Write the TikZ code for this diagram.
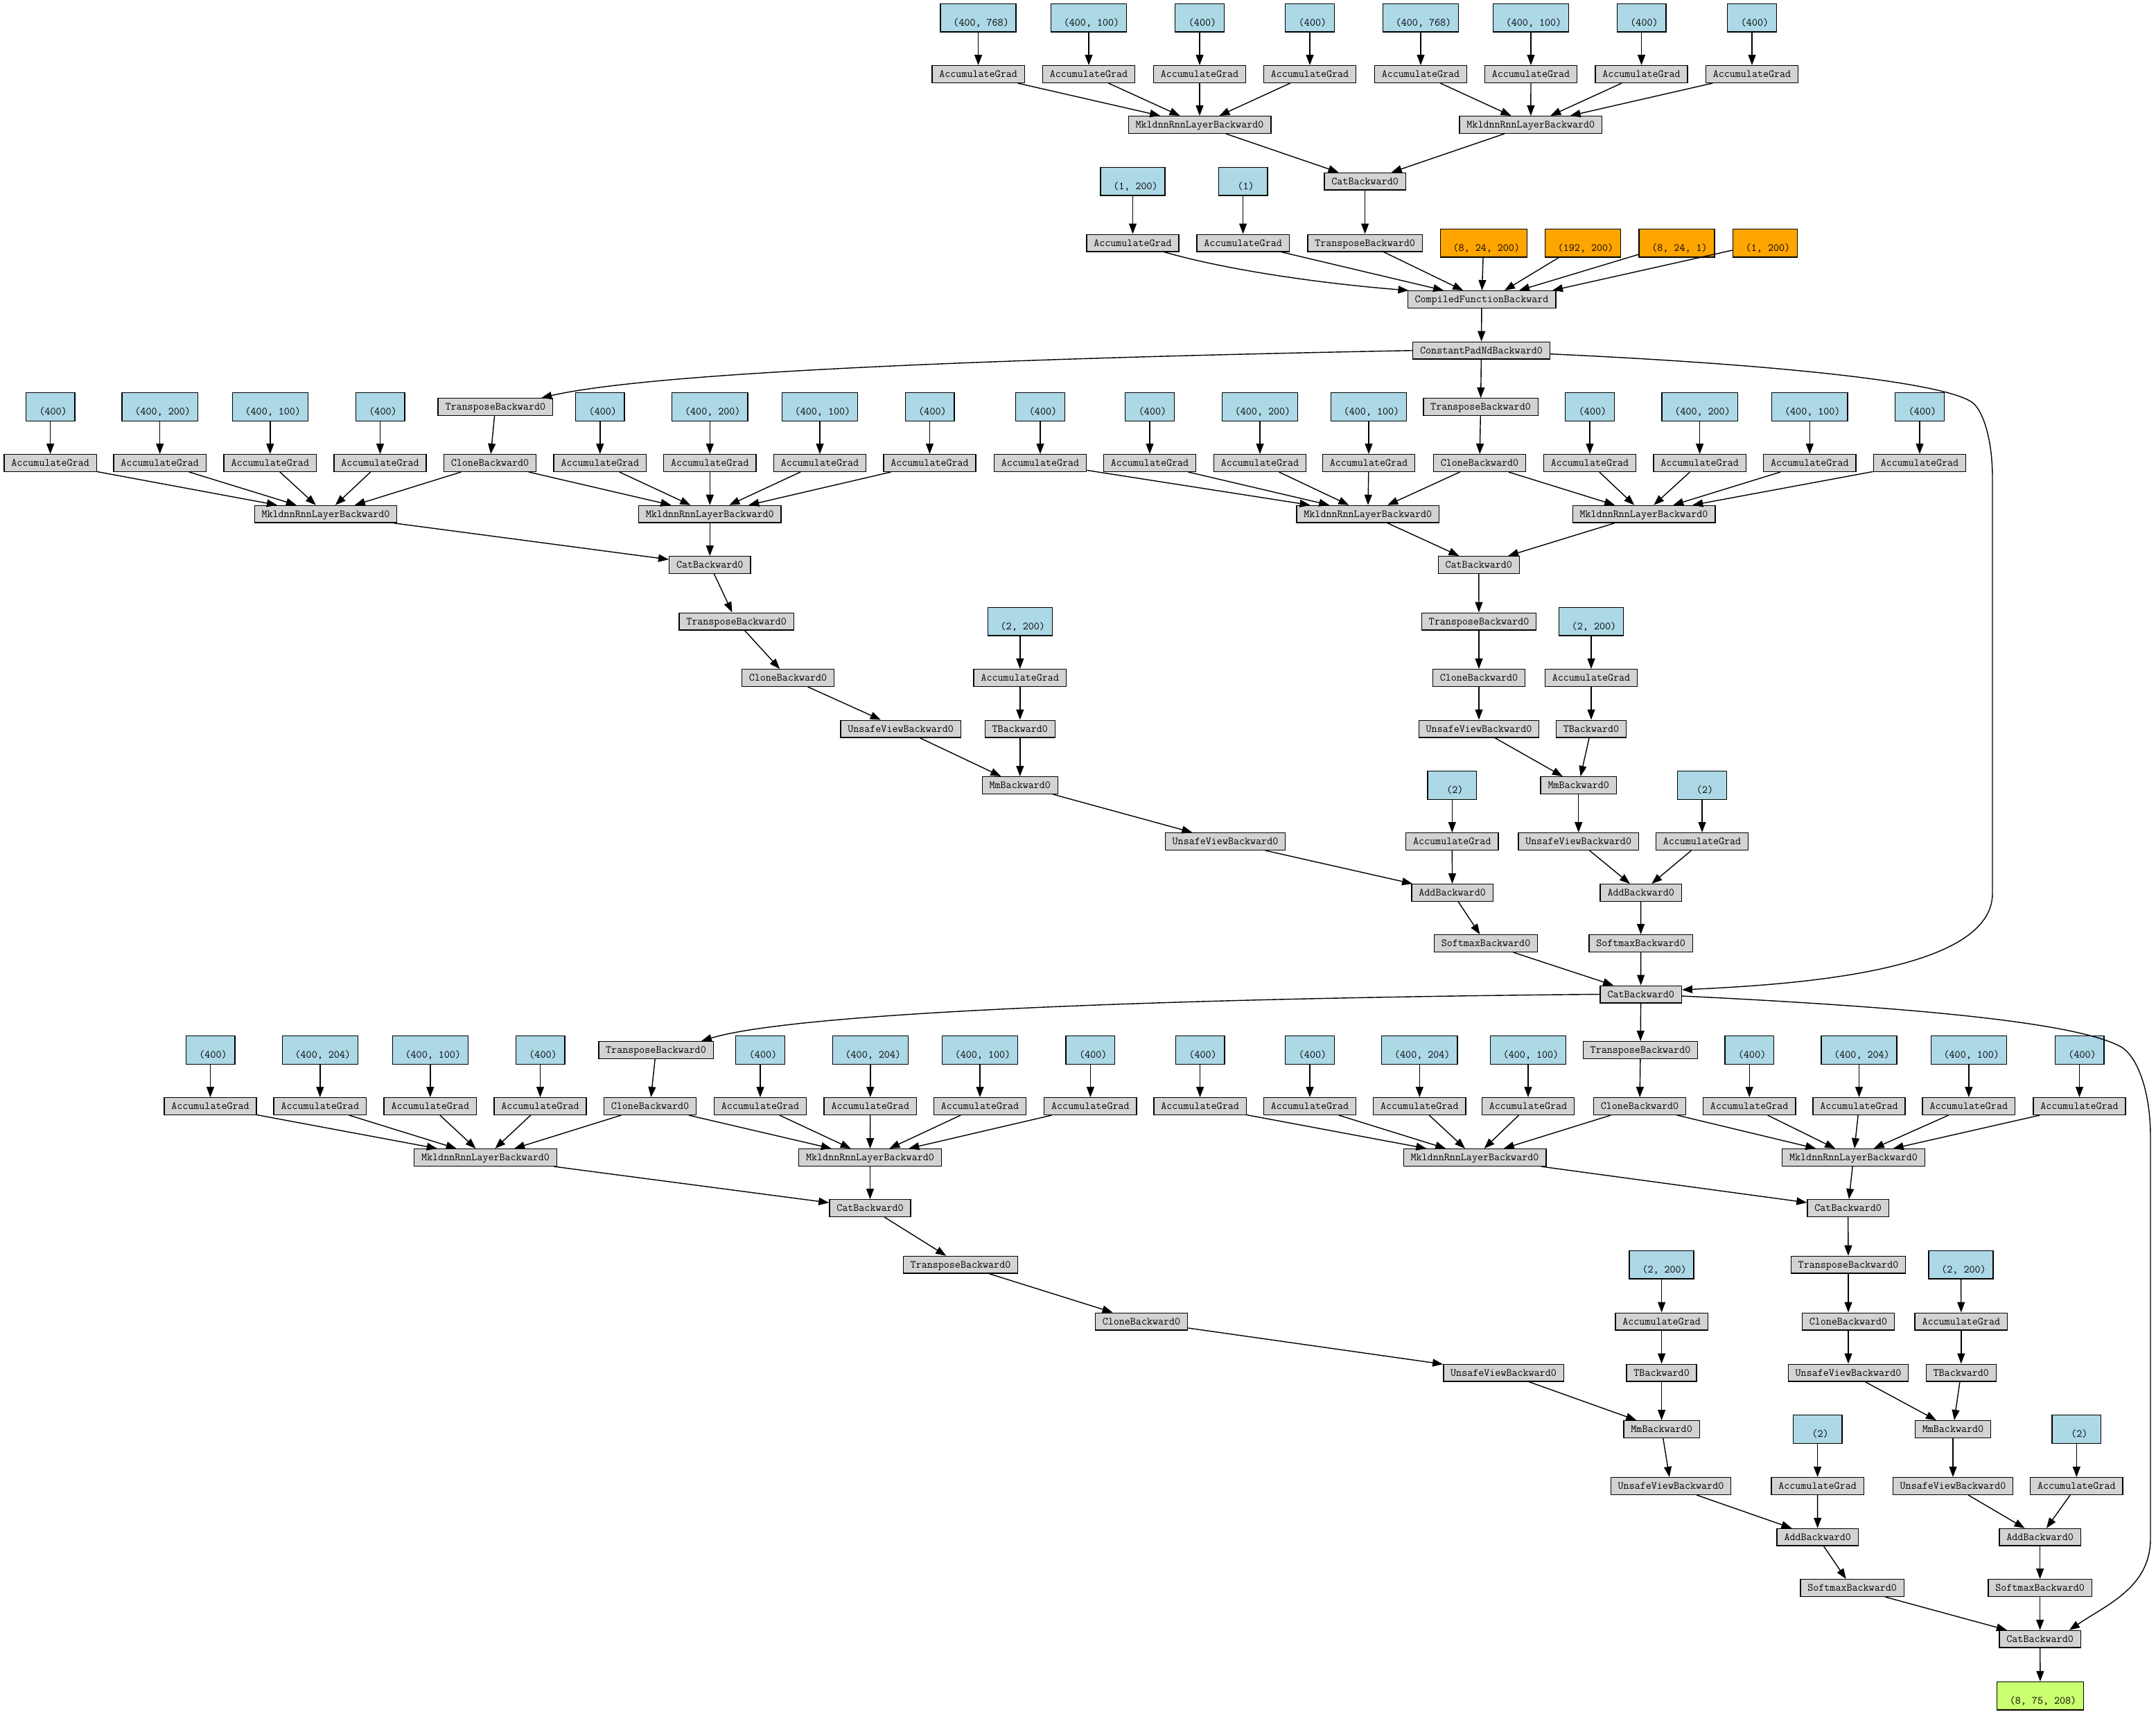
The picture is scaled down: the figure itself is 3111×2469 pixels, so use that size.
\documentclass[tikz,border=0pt]{standalone}
\usepackage{fontspec}
\usetikzlibrary{arrows.meta,calc}
\definecolor{opgray}{HTML}{D3D3D3}
\definecolor{leafblue}{HTML}{ADD8E6}
\definecolor{extorange}{HTML}{FFA500}
\definecolor{outgreen}{HTML}{CAFF70}
\newcommand\OpN[3]{\node[op] (#1) at (#2) {#3};}
\newcommand\LeafN[3]{\node[leaf] (#1) at (#2) {\phantom{0}#3};}
\newcommand\ExtN[3]{\node[ext] (#1) at (#2) {\phantom{0}#3};}
\begin{document}
\begin{tikzpicture}[x=1pt,y=1pt,
  base/.style={draw=black, line width=1.4pt, rectangle,
    font=\ttfamily\fontsize{15.6}{18}\selectfont, inner xsep=10.4pt, inner ysep=0pt},
  op/.style={base, fill=opgray, minimum height=24.6pt, text height=11.4pt, text depth=2pt},
  leaf/.style={base, fill=leafblue, minimum height=40.6pt, minimum width=70.6pt,
    text height=27pt, text depth=3.2pt},
  ext/.style={leaf, fill=extorange},
  outn/.style={leaf, fill=outgreen},
  edge/.style={line width=1.4pt, -{Triangle[length=15pt,width=11pt]}},
]
\useasboundingbox (0,0) rectangle (3111,-2469);

% ---------------- top block ----------------
\LeafN{a1}{1411.6,-25.7}{(400, 768)}
\LeafN{a2}{1571,-25.7}{(400, 100)}
\LeafN{a3}{1731,-25.7}{(400)}
\LeafN{a4}{1890,-25.7}{(400)}
\LeafN{a5}{2050,-25.7}{(400, 768)}
\LeafN{a6}{2209,-25.7}{(400, 100)}
\LeafN{a7}{2368.5,-25.7}{(400)}
\LeafN{a8}{2528,-25.7}{(400)}
\OpN{b1}{1411.6,-107}{AccumulateGrad}
\OpN{b2}{1571,-107}{AccumulateGrad}
\OpN{b3}{1731,-107}{AccumulateGrad}
\OpN{b4}{1890,-107}{AccumulateGrad}
\OpN{b5}{2050,-107}{AccumulateGrad}
\OpN{b6}{2209,-107}{AccumulateGrad}
\OpN{b7}{2368.5,-107}{AccumulateGrad}
\OpN{b8}{2528,-107}{AccumulateGrad}
\OpN{c1}{1731,-180}{MkldnnRnnLayerBackward0}
\OpN{c2}{2208.8,-180}{MkldnnRnnLayerBackward0}
\LeafN{d1}{1634.5,-261.7}{(1, 200)}
\LeafN{d2}{1793.6,-261.7}{(1)}
\OpN{dcat}{1969.6,-261.7}{CatBackward0}
\OpN{e1}{1634.5,-350.5}{AccumulateGrad}
\OpN{e2}{1793.6,-350.5}{AccumulateGrad}
\OpN{etr}{1969.6,-350.5}{TransposeBackward0}
\ExtN{o1}{2140.8,-350.5}{(8, 24, 200)}
\ExtN{o2}{2284,-350.5}{(192, 200)}
\ExtN{o3}{2419.5,-350.5}{(8, 24, 1)}
\ExtN{o4}{2547,-350.5}{(1, 200)}
\OpN{comp}{2138,-432}{CompiledFunctionBackward}
\OpN{cpad}{2137.5,-505.7}{ConstantPadNdBackward0}

% ---------------- first block ----------------
\LeafN{h1}{72.6,-587}{(400)}
\LeafN{h2}{230.7,-587}{(400, 200)}
\LeafN{h3}{389.8,-587}{(400, 100)}
\LeafN{h4}{548.5,-587}{(400)}
\OpN{htl}{714.8,-587}{TransposeBackward0}
\LeafN{h5}{865.8,-587}{(400)}
\LeafN{h6}{1024.3,-587}{(400, 200)}
\LeafN{h7}{1183,-587}{(400, 100)}
\LeafN{h8}{1341.5,-587}{(400)}
\LeafN{h9}{1501,-587}{(400)}
\LeafN{h10}{1659,-587}{(400)}
\LeafN{h11}{1818,-587}{(400, 200)}
\LeafN{h12}{1975,-587}{(400, 100)}
\OpN{htr}{2136.5,-587}{TransposeBackward0}
\LeafN{h13}{2294,-587}{(400)}
\LeafN{h14}{2452.6,-587}{(400, 200)}
\LeafN{h15}{2611.3,-587}{(400, 100)}
\LeafN{h16}{2770,-587}{(400)}
\OpN{i1}{72.6,-668}{AccumulateGrad}
\OpN{i2}{230.7,-668}{AccumulateGrad}
\OpN{i3}{389.8,-668}{AccumulateGrad}
\OpN{i4}{548.5,-668}{AccumulateGrad}
\OpN{icl}{707,-668}{CloneBackward0}
\OpN{i5}{865.8,-668}{AccumulateGrad}
\OpN{i6}{1024.3,-668}{AccumulateGrad}
\OpN{i7}{1183,-668}{AccumulateGrad}
\OpN{i8}{1341.5,-668}{AccumulateGrad}
\OpN{i9}{1501,-668}{AccumulateGrad}
\OpN{i10}{1659,-668}{AccumulateGrad}
\OpN{i11}{1818,-668}{AccumulateGrad}
\OpN{i12}{1975,-668}{AccumulateGrad}
\OpN{icr}{2135,-668}{CloneBackward0}
\OpN{i13}{2294,-668}{AccumulateGrad}
\OpN{i14}{2452.6,-668}{AccumulateGrad}
\OpN{i15}{2611.3,-668}{AccumulateGrad}
\OpN{i16}{2770,-668}{AccumulateGrad}
\OpN{j1}{470,-741.7}{MkldnnRnnLayerBackward0}
\OpN{j2}{1024.3,-741.7}{MkldnnRnnLayerBackward0}
\OpN{j3}{1973.8,-741.7}{MkldnnRnnLayerBackward0}
\OpN{j4}{2372,-741.7}{MkldnnRnnLayerBackward0}
\OpN{k1}{1024.3,-815}{CatBackward0}
\OpN{k2}{2133.8,-815}{CatBackward0}
\OpN{l1}{1062.6,-896.5}{TransposeBackward0}
\LeafN{l2}{1471.8,-896.5}{(2, 200)}
\OpN{l3}{2134,-896.5}{TransposeBackward0}
\LeafN{l4}{2296,-896.5}{(2, 200)}
\OpN{m1}{1137,-978}{CloneBackward0}
\OpN{m2}{1471.8,-978}{AccumulateGrad}
\OpN{m3}{2134,-978}{CloneBackward0}
\OpN{m4}{2296,-978}{AccumulateGrad}
\OpN{n1}{1299.6,-1051.5}{UnsafeViewBackward0}
\OpN{n2}{1471.8,-1051.5}{TBackward0}
\OpN{n3}{2134,-1051.5}{UnsafeViewBackward0}
\OpN{n4}{2296,-1051.5}{TBackward0}
\OpN{oo1}{1471.8,-1133}{MmBackward0}
\LeafN{ob1}{2095.3,-1133}{(2)}
\OpN{oo2}{2277.7,-1133}{MmBackward0}
\LeafN{ob2}{2456,-1133}{(2)}
\OpN{p1}{1768,-1214}{UnsafeViewBackward0}
\OpN{p2}{2095.3,-1214}{AccumulateGrad}
\OpN{p3}{2277.7,-1214}{UnsafeViewBackward0}
\OpN{p4}{2456,-1214}{AccumulateGrad}
\OpN{q1}{2095.6,-1288}{AddBackward0}
\OpN{q2}{2367.7,-1288}{AddBackward0}
\OpN{r1}{2144,-1361}{SoftmaxBackward0}
\OpN{r2}{2367.5,-1361}{SoftmaxBackward0}
\OpN{s1}{2367.7,-1434.5}{CatBackward0}

% ---------------- second block ----------------
\LeafN{t1}{303.5,-1515}{(400)}
\LeafN{t2}{461.8,-1515}{(400, 204)}
\LeafN{t3}{620.8,-1515}{(400, 100)}
\LeafN{t4}{779.5,-1515}{(400)}
\OpN{ttl}{946.5,-1515}{TransposeBackward0}
\LeafN{t5}{1097,-1515}{(400)}
\LeafN{t6}{1255.8,-1515}{(400, 204)}
\LeafN{t7}{1414,-1515}{(400, 100)}
\LeafN{t8}{1573.4,-1515}{(400)}
\LeafN{t9}{1731.6,-1515}{(400)}
\LeafN{t10}{1890,-1515}{(400)}
\LeafN{t11}{2048.3,-1515}{(400, 204)}
\LeafN{t12}{2205,-1515}{(400, 100)}
\OpN{ttr}{2367,-1515}{TransposeBackward0}
\LeafN{t13}{2524.2,-1515}{(400)}
\LeafN{t14}{2682.5,-1515}{(400, 204)}
\LeafN{t15}{2840.8,-1515}{(400, 100)}
\LeafN{t16}{3000.5,-1515}{(400)}
\OpN{u1}{303.5,-1596}{AccumulateGrad}
\OpN{u2}{461.8,-1596}{AccumulateGrad}
\OpN{u3}{620.8,-1596}{AccumulateGrad}
\OpN{u4}{779.5,-1596}{AccumulateGrad}
\OpN{ucl}{938,-1596}{CloneBackward0}
\OpN{u5}{1097,-1596}{AccumulateGrad}
\OpN{u6}{1255.8,-1596}{AccumulateGrad}
\OpN{u7}{1414,-1596}{AccumulateGrad}
\OpN{u8}{1573.4,-1596}{AccumulateGrad}
\OpN{u9}{1731.6,-1596}{AccumulateGrad}
\OpN{u10}{1890,-1596}{AccumulateGrad}
\OpN{u11}{2048.3,-1596}{AccumulateGrad}
\OpN{u12}{2205,-1596}{AccumulateGrad}
\OpN{ucr}{2366,-1596}{CloneBackward0}
\OpN{u13}{2524.2,-1596}{AccumulateGrad}
\OpN{u14}{2682.5,-1596}{AccumulateGrad}
\OpN{u15}{2840.8,-1596}{AccumulateGrad}
\OpN{u16}{3000.5,-1596}{AccumulateGrad}
\OpN{v1}{700.5,-1670}{MkldnnRnnLayerBackward0}
\OpN{v2}{1255.5,-1670}{MkldnnRnnLayerBackward0}
\OpN{v3}{2128,-1670}{MkldnnRnnLayerBackward0}
\OpN{v4}{2674.5,-1670}{MkldnnRnnLayerBackward0}
\OpN{w1}{1255.5,-1743}{CatBackward0}
\OpN{w2}{2666.6,-1743}{CatBackward0}
\OpN{x1}{1386,-1824.7}{TransposeBackward0}
\LeafN{x2}{2397.6,-1824.7}{(2, 200)}
\OpN{x3}{2667,-1824.7}{TransposeBackward0}
\LeafN{x4}{2829.5,-1824.7}{(2, 200)}
\OpN{y1}{1647,-1906.5}{CloneBackward0}
\OpN{y2}{2397.6,-1906.5}{AccumulateGrad}
\OpN{y3}{2667,-1906.5}{CloneBackward0}
\OpN{y4}{2829.8,-1906.5}{AccumulateGrad}
\OpN{z1}{2169.5,-1980.5}{UnsafeViewBackward0}
\OpN{z2}{2397.6,-1980.5}{TBackward0}
\OpN{z3}{2667,-1980.5}{UnsafeViewBackward0}
\OpN{z4}{2829.8,-1980.5}{TBackward0}
\OpN{aa1}{2397.6,-2062}{MmBackward0}
\LeafN{aab1}{2622.6,-2062}{(2)}
\OpN{aa2}{2818,-2062}{MmBackward0}
\LeafN{aab2}{2996.3,-2062}{(2)}
\OpN{ab1}{2411,-2144}{UnsafeViewBackward0}
\OpN{ab2}{2622.6,-2144}{AccumulateGrad}
\OpN{ab3}{2818,-2144}{UnsafeViewBackward0}
\OpN{ab4}{2996.3,-2144}{AccumulateGrad}
\OpN{ac1}{2622.7,-2217.8}{AddBackward0}
\OpN{ac2}{2943.6,-2217.8}{AddBackward0}
\OpN{ad1}{2672.6,-2291}{SoftmaxBackward0}
\OpN{ad2}{2943.6,-2291}{SoftmaxBackward0}
\OpN{ae}{2943.6,-2364.8}{CatBackward0}
\node[outn] (res) at (2944,-2446.8) {\phantom{0}(8, 75, 208)};

% ---------------- edges: top ----------------
\foreach \k in {1,...,8} \draw[edge] (a\k) -- (b\k);
\foreach \s/\t in {b1/c1,b2/c1,b3/c1,b4/c1,b5/c2,b6/c2,b7/c2,b8/c2,
  c1/dcat,c2/dcat,dcat/etr,d1/e1,d2/e2,e2/comp,etr/comp,o1/comp,comp/cpad,cpad/htr}
  \draw[edge] (\s) -- (\t);
\draw[edge] ($(e1.south)+(45,0)$) .. controls ($(e1.south)+(150,-30)$) and ($(comp.north west)+(-100,8)$) .. ($(comp.north west)+(2,0)$);
\draw[edge] (o2) -- ($(comp.north)+(33,0)$);
\draw[edge] (o3) -- ($(comp.north)+(54,0)$);
\draw[edge] (o4) -- ($(comp.north)+(102,0)$);
\draw[edge] (cpad.west) .. controls (1500,-516) and (950,-535) .. ($(htl.north east)+(-17,0)$);
\draw[edge] ($(cpad.east)+(0,-5)$) .. controls (2550,-525) and (2800,-550) .. (2845,-580)
  .. controls (2860,-590) and (2875,-630) .. (2875,-690) -- (2875,-1289)
  .. controls (2875,-1400) and (2600,-1420) .. ($(s1.east)+(0,6.5)$);

% ---------------- edges: first block ----------------
\foreach \k in {1,...,16} \draw[edge] (h\k) -- (i\k);
\foreach \s/\t in {htl/icl,i1/j1,i2/j1,i3/j1,i4/j1,icl/j1,icl/j2,i5/j2,i6/j2,i7/j2,i8/j2,
  j1/k1,j2/k1,k1/l1,l1/m1,m1/n1,n1/oo1,l2/m2,m2/n2,n2/oo1,oo1/p1,p1/q1,ob1/p2,p2/q1,q1/r1,r1/s1,
  htr/icr,i9/j3,i10/j3,i11/j3,i12/j3,icr/j3,icr/j4,i13/j4,i14/j4,i15/j4,i16/j4,
  j3/k2,j4/k2,k2/l3,l3/m3,m3/n3,n3/oo2,l4/m4,m4/n4,n4/oo2,oo2/p3,p3/q2,ob2/p4,p4/q2,q2/r2,r2/s1}
  \draw[edge] (\s) -- (\t);

% ---------------- edges: second block ----------------
\draw[edge] (s1.west) .. controls (1700,-1440) and (1150,-1460) .. ($(ttl.north east)+(-18,0)$);
\draw[edge] (s1) -- (ttr);
\draw[edge] ($(s1.east)+(0,-2.5)$) .. controls (2800,-1455) and (3000,-1478) .. (3060,-1510)
  .. controls (3082,-1522) and (3103,-1570) .. (3103,-1640) -- (3103,-2220)
  .. controls (3103,-2290) and (3040,-2315) .. ($(ae.north east)+(-17,0)$);
\foreach \k in {1,...,16} \draw[edge] (t\k) -- (u\k);
\foreach \s/\t in {ttl/ucl,u1/v1,u2/v1,u3/v1,u4/v1,ucl/v1,ucl/v2,u5/v2,u6/v2,u7/v2,u8/v2,
  v1/w1,v2/w1,w1/x1,x1/y1,y1/z1,z1/aa1,x2/y2,y2/z2,z2/aa1,aa1/ab1,ab1/ac1,aab1/ab2,ab2/ac1,ac1/ad1,ad1/ae,
  ttr/ucr,u9/v3,u10/v3,u11/v3,u12/v3,ucr/v3,ucr/v4,u13/v4,u14/v4,u15/v4,u16/v4,
  v3/w2,v4/w2,w2/x3,x3/y3,y3/z3,z3/aa2,x4/y4,y4/z4,z4/aa2,aa2/ab3,ab3/ac2,aab2/ab4,ab4/ac2,ac2/ad2,ad2/ae,ae/res}
  \draw[edge] (\s) -- (\t);
\end{tikzpicture}
\end{document}
